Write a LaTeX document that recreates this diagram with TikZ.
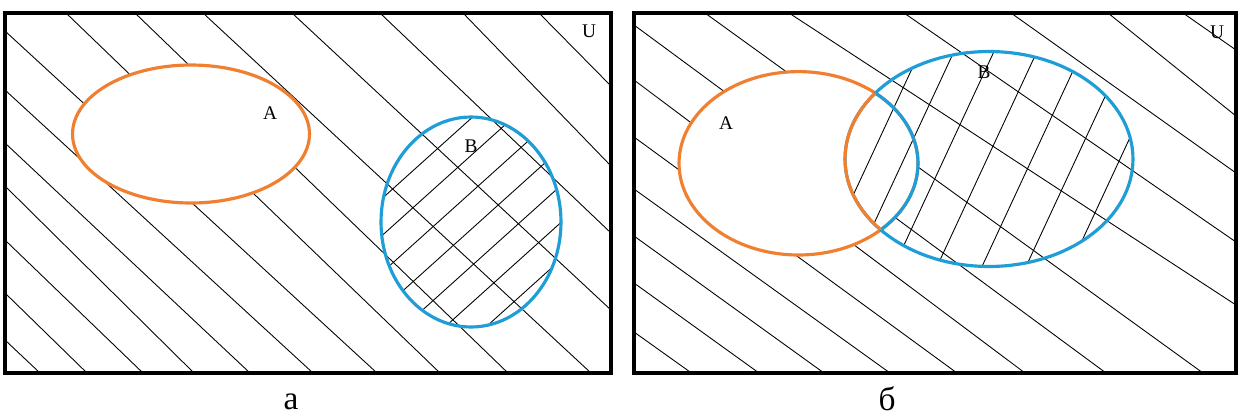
\documentclass[tikz,border=0pt]{standalone}
\usepackage{fontspec}
\setmainfont{Liberation Serif}
\definecolor{setA}{RGB}{240,128,48}
\definecolor{setB}{RGB}{30,157,215}
\begin{document}
\begin{tikzpicture}[x=0.02cm,y=-0.02cm,
  hatch/.style={line width=0.5pt,black},
  frame/.style={line width=1.9pt,black},
  setAline/.style={line width=1.8pt,setA},
  setBline/.style={line width=1.8pt,setB},
  lbl/.style={font=\fontsize{11}{13}\selectfont,inner sep=0pt},
  captxt/.style={font=\fontsize{19}{22}\selectfont,inner sep=0pt}]
\useasboundingbox (0,0) rectangle (1241,417);
\fill[white] (0,0) rectangle (1241,417);

% ---------------- panel a ----------------
\begin{scope}
  \clip (5,13) rectangle (611,373);
  \foreach \a/\b/\c/\d in {5/340/40/373, 5/293/87/373, 5/240/143/373,
      5/186/194/373, 5/143/250/373, 5/90/313/373, 5/31/377/373,
      66/13/440/373, 135/13/508/373, 203/13/591/373, 292/13/611/310,
      380/13/611/233, 463/13/611/166, 539/13/611/86}
    \draw[hatch] (\a,\b) -- (\c,\d);
\end{scope}
\fill[white] (191,134) ellipse [x radius=2.37cm, y radius=1.38cm];
\begin{scope}
  \clip (471,222) ellipse [x radius=1.8cm, y radius=2.1cm];
  \foreach \k in {-2,...,7} {
    \pgfmathsetmacro\px{437.6+20.2*\k}
    \pgfmathsetmacro\py{13+0.931*(\px-292)}
    \draw[hatch] (\px-150,\py+135) -- (\px+150,\py-135);
  }
\end{scope}
\draw[frame] (5,13) rectangle (611,373);
\draw[setAline] (191,134) ellipse [x radius=2.37cm, y radius=1.38cm];
\draw[setBline] (471,222) ellipse [x radius=1.8cm, y radius=2.1cm];
\node[lbl] (la) at (270,113) {A};
\node[lbl] (lb) at (471,146) {B};
\node[lbl] (lu) at (589,31) {U};
\node[captxt] (capa) at (291,402) {а};

% ---------------- panel b ----------------
\begin{scope}
  \clip (634,13) rectangle (1236,373);
  \foreach \a/\b/\c/\d in {634/332/691.5/373, 634/283/759/373, 634/236/824/373,
      634/189/890/373, 634/137/957/373, 634/80/1025/373, 634/25/1106/373,
      705/13/1203/373, 789/13/1236/305, 904/13/1236/242, 1011/13/1236/173,
      1108/13/1236/116, 1183/13/1236/50}
    \draw[hatch] (\a,\b) -- (\c,\d);
\end{scope}
\fill[white] (798.5,163.3) ellipse [x radius=2.39cm, y radius=1.834cm];
\begin{scope}
  \clip (989,159) ellipse [x radius=2.88cm, y radius=2.15cm];
  \foreach \xk in {870,904,944,987,1032,1076,1120}
    \draw[hatch] (\xk-60,159+129) -- (\xk+60,159-129);
\end{scope}
\draw[frame] (634,13) rectangle (1236,373);
\draw[setAline] (798.5,163.3) ellipse [x radius=2.39cm, y radius=1.834cm];
\draw[setBline] (989,159) ellipse [x radius=2.88cm, y radius=2.15cm];
\begin{scope}
  \clip (989,159) ellipse [x radius=2.88cm, y radius=2.15cm];
  \draw[setBline] (798.5,163.3) ellipse [x radius=2.39cm, y radius=1.834cm];
\end{scope}
\begin{scope}
  \clip (798.5,163.3) ellipse [x radius=2.39cm, y radius=1.834cm];
  \draw[setAline] (989,159) ellipse [x radius=2.88cm, y radius=2.15cm];
\end{scope}
\node[lbl] (ra) at (726,123) {A};
\node[lbl] (rb) at (984,72) {B};
\node[lbl] (ru) at (1217,32) {U};
\node[captxt] (capb) at (887,399) {б};
\end{tikzpicture}
\end{document}
